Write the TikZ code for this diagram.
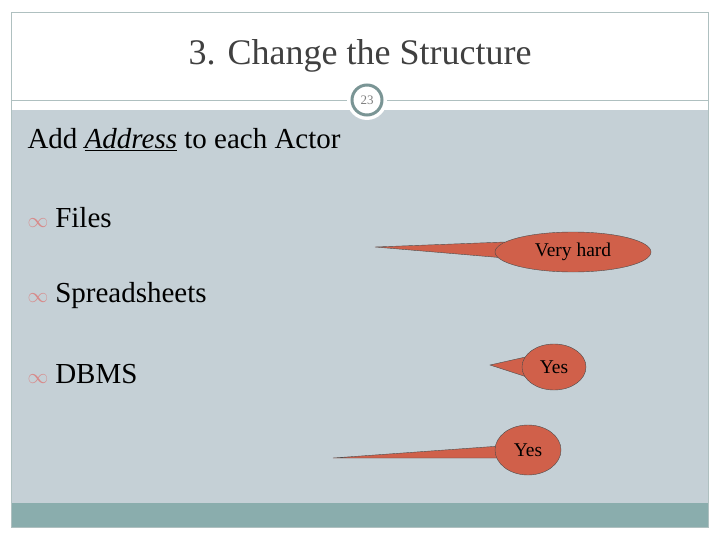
\documentclass[tikz,border=0pt]{standalone}
\usepackage{fontspec}
\setmainfont{Liberation Serif}
\definecolor{bodyblue}{HTML}{C5D0D6}
\definecolor{barteal}{HTML}{8AADAD}
\definecolor{callred}{HTML}{D0604A}
\definecolor{ringgray}{HTML}{7A9595}
\definecolor{bulletpink}{HTML}{D88A8A}
\tikzset{
  callout/.style={fill=callred, draw=black!70, thin},
  item/.style={anchor=west, font=\fontsize{29}{32}\selectfont},
  calltext/.style={font=\fontsize{19.5}{22}\selectfont},
}
\newcommand{\bul}{{\color{bulletpink}\fontsize{22}{22}\selectfont$\infty$}\hspace{7pt}}
\begin{document}
\begin{tikzpicture}[x=1pt, y=-1pt]
\useasboundingbox (0,0) rectangle (720,540);
	\fill[white] (0,0) rectangle (720,540);
	\fill[bodyblue] (11,110) rectangle (708,503);
	\fill[barteal] (11,503) rectangle (708,527);
	\draw[ringgray!60] (11,12) rectangle (708,527);
	\draw[ringgray!60] (11,100) -- (708,100);
	\fill[white] (367,100) circle (20);
	\draw[ringgray, line width=3pt] (367,100) circle (15);
	\node[text=gray, font=\fontsize{13}{14}\selectfont] (num) at (367,100) {23};
	\node[font=\fontsize{36}{40}\selectfont, text=black!75] (title) at (360,56) {3. Change the Structure};
	\node[item] (actor) at (24,140) {Add \underline{\textit{Address}} to each Actor};
	\node[item] (files) at (24,218) {\bul Files};
	\node[item] (sheets) at (24,296) {\bul Spreadsheets};
	\node[item] (dbms) at (24,374) {\bul DBMS};
	% callouts
	\coordinate (tipa) at (375,247);
	\coordinate (tipb) at (490,365);
	\coordinate (tipc) at (333,458);
	\draw[callout] (tipa) -- (505,242) -- (505,258) -- cycle;
	\draw[callout] (573,252) ellipse (78 and 20);
	\fill[callred] (503,243) -- (503,257) -- (510,257) -- (510,243) -- cycle;
	\node[calltext] (hard) at (573,252) {Very hard};
	\draw[callout] (tipb) -- (530,356) -- (530,378) -- cycle;
	\draw[callout] (554,367) ellipse (32 and 23);
	\fill[callred] (527,358) -- (527,376) -- (534,376) -- (534,358) -- cycle;
	\node[calltext] (yesa) at (554,367) {Yes};
	\draw[callout] (tipc) -- (500,446) -- (500,458) -- cycle;
	\draw[callout] (528,450) ellipse (33 and 25);
	\fill[callred] (497,445) -- (497,458) -- (505,458) -- (505,445) -- cycle;
	\node[calltext] (yesb) at (528,450) {Yes};
\end{tikzpicture}
\end{document}
